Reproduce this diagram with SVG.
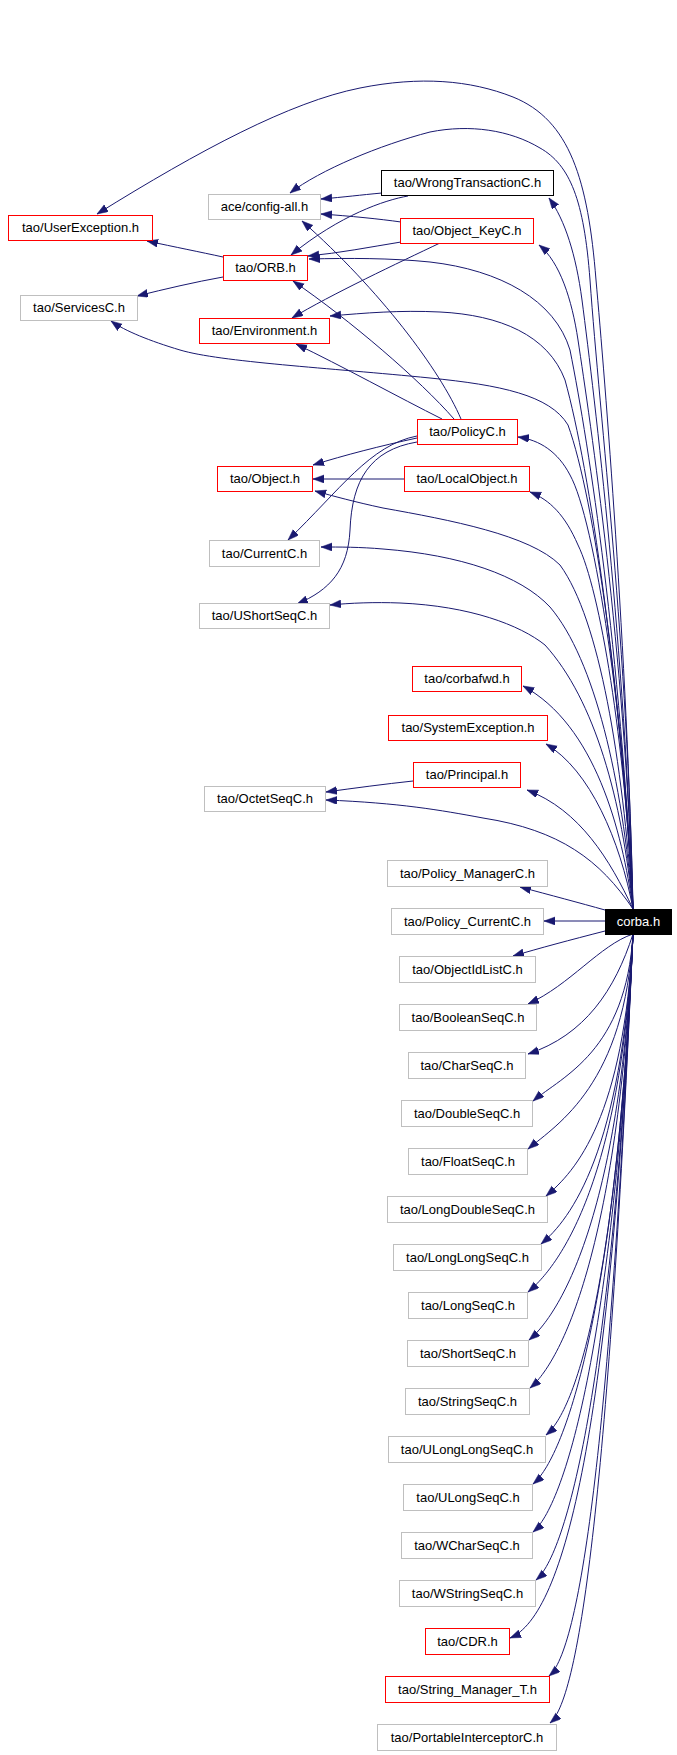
<svg xmlns="http://www.w3.org/2000/svg" width="677" height="1755" viewBox="0 0 677 1755">
<style>
.n rect{fill:#ffffff;stroke-width:1}
.r rect{stroke:#ff0000}
.g rect{stroke:#bfbfbf}
.k rect{stroke:#000000}
text{font-family:"Liberation Sans",Arial,sans-serif;font-size:13px;text-anchor:middle;fill:#000000}
#corba rect{fill:#000000;stroke:#000000}
#corba text{fill:#ffffff}
.e path{fill:none;stroke:#191970;stroke-width:1;marker-end:url(#arr)}
</style>
<defs>
<marker id="arr" markerUnits="userSpaceOnUse" markerWidth="12" markerHeight="9" refX="11" refY="4" orient="auto">
<path d="M0,0 L11,4 L0,8 z" fill="#191970" stroke="#191970" stroke-width="0.5"/>
</marker>
</defs>
<rect x="0" y="0" width="677" height="1755" fill="#ffffff"/>
<g id="edges" class="e">
<path d="M633,909 C627,650 605,380 596,280 C588,180 570,120 513,97 C470,80 420,76 360,88 C290,102 200,150 97,214"/>
<path d="M633,909 C628,650 600,420 590,280 C584,200 570,165 540,148 C510,130 470,124 430,132 C380,145 320,170 290,193"/>
<path d="M633,909 C625,650 595,400 582,300 C576,255 565,220 549,198"/>
<path d="M633,909 C625,650 590,420 578,340 C572,300 560,262 539,245"/>
<path d="M633,909 C620,650 590,450 570,350 C555,300 500,270 430,262 C390,258 350,258 309,259"/>
<path d="M633,909 C620,680 590,470 565,380 C548,335 500,315 440,312 C400,310 365,313 330,316"/>
<path d="M633,909 C622,700 595,500 568,425 C550,395 500,385 430,378 C330,368 220,362 180,350 C150,341 125,331 111,321"/>
<path d="M633,909 C625,720 595,520 570,475 C558,452 540,440 518,437"/>
<path d="M633,909 C625,740 600,590 578,545 C565,515 550,500 530,492"/>
<path d="M633,909 C622,760 600,620 560,565 C530,535 450,520 383,508 C355,502 333,496 315,491"/>
<path d="M633,909 C622,780 595,660 550,607 C520,575 460,555 383,549 C360,547 340,547 321,547"/>
<path d="M633,909 C622,800 595,700 545,645 C520,625 470,606 400,603 C375,602 350,603 330,605"/>
<path d="M633,909 C622,830 595,725 523,686"/>
<path d="M633,909 C620,840 590,770 546,744"/>
<path d="M633,909 C610,860 580,810 527,790"/>
<path d="M633,909 C600,860 560,830 483,818 C440,810 400,803 326,800"/>
<path d="M605,910 C580,903 550,895 520,887"/>
<path d="M605,921 L544,921"/>
<path d="M605,931 C570,940 540,948 513,956"/>
<path d="M633,934 C600,945 570,985 528,1004"/>
<path d="M633,934 C615,990 585,1035 528,1054"/>
<path d="M633,934 C626,1051 563,1076 533,1101"/>
<path d="M633,934 C625,1084 558,1124 528,1149"/>
<path d="M633,934 C624,1117 576,1171 546,1196"/>
<path d="M633,934 C622,1151 571,1219 541,1244"/>
<path d="M633,934 C621,1185 558,1267 528,1292"/>
<path d="M633,934 C620,1218 559,1315 529,1340"/>
<path d="M633,934 C618,1252 560,1363 530,1388"/>
<path d="M633,934 C617,1285 576,1410 546,1435"/>
<path d="M633,934 C616,1319 563,1459 533,1484"/>
<path d="M633,934 C614,1353 563,1507 533,1532"/>
<path d="M633,934 C613,1386 566,1555 536,1580"/>
<path d="M633,934 C611,1427 565,1615 510,1638"/>
<path d="M633,934 C610,1453 579,1651 549,1676"/>
<path d="M633,934 C609,1486 580,1698 550,1723"/>
<path d="M382,193 C360,195 345,197 321,199"/>
<path d="M401,222 C380,219 350,216 321,214"/>
<path d="M408,196 C385,200 340,215 291,255"/>
<path d="M401,242 C370,247 340,253 308,256"/>
<path d="M440,243 C400,262 330,295 292,318"/>
<path d="M461,419 C440,370 380,290 302,221"/>
<path d="M454,419 C420,380 350,320 293,281"/>
<path d="M442,419 C400,398 340,365 296,344"/>
<path d="M223,257 C200,252 175,247 147,241"/>
<path d="M223,277 C195,282 165,289 137,296"/>
<path d="M417,438 C380,446 345,455 313,465"/>
<path d="M404,479 L313,479"/>
<path d="M417,436 C370,445 340,490 288,540"/>
<path d="M417,442 C370,450 352,480 350,530 C348,570 330,590 297,604"/>
<path d="M413,781 C385,784 355,788 326,792"/>
</g>
<g id="n_userexception" class="n r"><rect x="8.5" y="215.5" width="144" height="25"/><text x="80.5" y="232">tao/UserException.h</text></g>
<g id="n_configall" class="n g"><rect x="208.5" y="194.5" width="112" height="25"/><text x="264.5" y="211">ace/config-all.h</text></g>
<g id="n_wrongtransaction" class="n k"><rect x="381.5" y="170.5" width="172" height="25"/><text x="467.5" y="187">tao/WrongTransactionC.h</text></g>
<g id="n_objectkey" class="n r"><rect x="400.5" y="218.5" width="133" height="25"/><text x="467" y="235">tao/Object_KeyC.h</text></g>
<g id="n_orb" class="n r"><rect x="223.5" y="255.5" width="84" height="25"/><text x="265.5" y="272">tao/ORB.h</text></g>
<g id="n_services" class="n g"><rect x="20.5" y="295.5" width="117" height="25"/><text x="79" y="312">tao/ServicesC.h</text></g>
<g id="n_environment" class="n r"><rect x="199.5" y="318.5" width="130" height="25"/><text x="264.5" y="335">tao/Environment.h</text></g>
<g id="n_policy" class="n r"><rect x="417.5" y="419.5" width="100" height="25"/><text x="467.5" y="436">tao/PolicyC.h</text></g>
<g id="n_object" class="n r"><rect x="217.5" y="466.5" width="95" height="25"/><text x="265" y="483">tao/Object.h</text></g>
<g id="n_localobject" class="n r"><rect x="404.5" y="466.5" width="125" height="25"/><text x="467" y="483">tao/LocalObject.h</text></g>
<g id="n_current" class="n g"><rect x="209.5" y="540.5" width="110" height="26"/><text x="264.5" y="558">tao/CurrentC.h</text></g>
<g id="n_ushortseq" class="n g"><rect x="199.5" y="603.5" width="130" height="25"/><text x="264.5" y="620">tao/UShortSeqC.h</text></g>
<g id="n_corbafwd" class="n r"><rect x="412.5" y="666.5" width="109" height="25"/><text x="467" y="683">tao/corbafwd.h</text></g>
<g id="n_systemexception" class="n r"><rect x="388.5" y="715.5" width="159" height="25"/><text x="468" y="732">tao/SystemException.h</text></g>
<g id="n_principal" class="n r"><rect x="413.5" y="762.5" width="107" height="25"/><text x="467" y="779">tao/Principal.h</text></g>
<g id="n_octetseq" class="n g"><rect x="204.5" y="786.5" width="121" height="25"/><text x="265" y="803">tao/OctetSeqC.h</text></g>
<g id="n_policymanager" class="n g"><rect x="387.5" y="860.5" width="160" height="26"/><text x="467.5" y="878">tao/Policy_ManagerC.h</text></g>
<g id="n_policycurrent" class="n g"><rect x="391.5" y="908.5" width="152" height="26"/><text x="467.5" y="926">tao/Policy_CurrentC.h</text></g>
<g id="corba" class="n"><rect x="605.5" y="909.5" width="66" height="25"/><text x="638.5" y="926">corba.h</text></g>
<g id="n_objectidlist" class="n g"><rect x="399.5" y="956.5" width="136" height="26"/><text x="467.5" y="974">tao/ObjectIdListC.h</text></g>
<g id="n_booleanseq" class="n g"><rect x="399.5" y="1004.5" width="137" height="26"/><text x="468" y="1022">tao/BooleanSeqC.h</text></g>
<g id="n_charseq" class="n g"><rect x="408.5" y="1052.5" width="117" height="26"/><text x="467" y="1070">tao/CharSeqC.h</text></g>
<g id="n_doubleseq" class="n g"><rect x="401.5" y="1100.5" width="131" height="26"/><text x="467" y="1118">tao/DoubleSeqC.h</text></g>
<g id="n_floatseq" class="n g"><rect x="408.5" y="1148.5" width="119" height="26"/><text x="468" y="1166">tao/FloatSeqC.h</text></g>
<g id="n_longdoubleseq" class="n g"><rect x="387.5" y="1196.5" width="160" height="26"/><text x="467.5" y="1214">tao/LongDoubleSeqC.h</text></g>
<g id="n_longlongseq" class="n g"><rect x="393.5" y="1244.5" width="148" height="26"/><text x="467.5" y="1262">tao/LongLongSeqC.h</text></g>
<g id="n_longseq" class="n g"><rect x="408.5" y="1292.5" width="119" height="26"/><text x="468" y="1310">tao/LongSeqC.h</text></g>
<g id="n_shortseq" class="n g"><rect x="407.5" y="1340.5" width="121" height="26"/><text x="468" y="1358">tao/ShortSeqC.h</text></g>
<g id="n_stringseq" class="n g"><rect x="405.5" y="1388.5" width="124" height="26"/><text x="467.5" y="1406">tao/StringSeqC.h</text></g>
<g id="n_ulonglongseq" class="n g"><rect x="388.5" y="1436.5" width="157" height="26"/><text x="467" y="1454">tao/ULongLongSeqC.h</text></g>
<g id="n_ulongseq" class="n g"><rect x="403.5" y="1484.5" width="129" height="26"/><text x="468" y="1502">tao/ULongSeqC.h</text></g>
<g id="n_wcharseq" class="n g"><rect x="401.5" y="1532.5" width="131" height="26"/><text x="467" y="1550">tao/WCharSeqC.h</text></g>
<g id="n_wstringseq" class="n g"><rect x="399.5" y="1580.5" width="136" height="26"/><text x="467.5" y="1598">tao/WStringSeqC.h</text></g>
<g id="n_cdr" class="n r"><rect x="425.5" y="1628.5" width="84" height="26"/><text x="467.5" y="1646">tao/CDR.h</text></g>
<g id="n_stringmanager" class="n r"><rect x="385.5" y="1676.5" width="164" height="26"/><text x="467.5" y="1694">tao/String_Manager_T.h</text></g>
<g id="n_portableinterceptor" class="n g"><rect x="377.5" y="1724.5" width="179" height="26"/><text x="467" y="1742">tao/PortableInterceptorC.h</text></g>
</svg>
